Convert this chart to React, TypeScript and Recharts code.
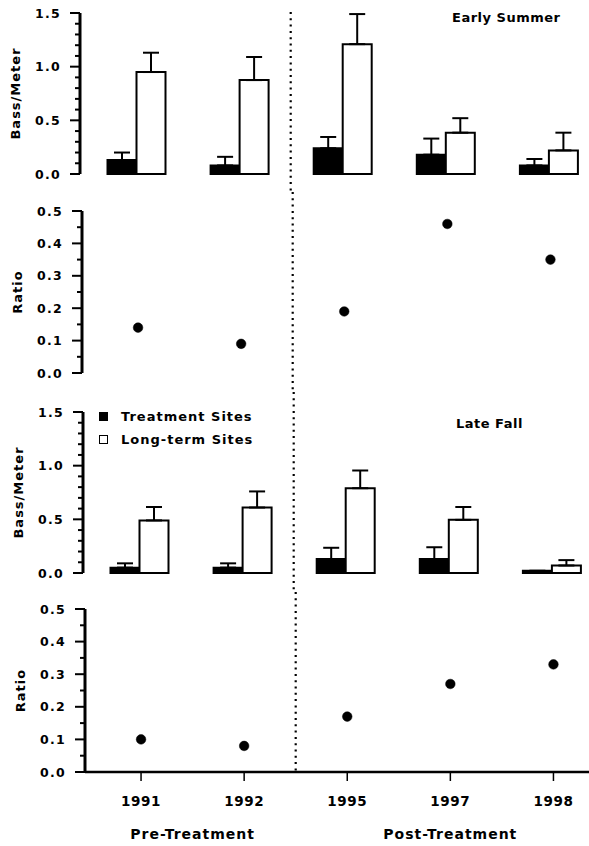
import React from 'react';
import { ComposedChart, Bar, ErrorBar, Line, XAxis, YAxis, ReferenceLine, Legend } from 'recharts';

// ---------- data ----------
const years = ['1991', '1992', '1995', '1997', '1998'];
const preYears = ['1991', '1992'];
const postYears = ['1995', '1997', '1998'];
const groupNames = ['Pre-Treatment', 'Post-Treatment'];

const summerTreatment = [0.13, 0.08, 0.24, 0.18, 0.08];
const summerTreatmentSE = [0.07, 0.08, 0.105, 0.15, 0.06];
const summerLongTerm = [0.95, 0.875, 1.21, 0.385, 0.22];
const summerLongTermSE = [0.18, 0.215, 0.28, 0.135, 0.165];
const summerRatio = [0.14, 0.09, 0.19, 0.46, 0.35];

const fallTreatment = [0.05, 0.05, 0.13, 0.13, 0.02];
const fallTreatmentSE = [0.04, 0.04, 0.105, 0.11, 0];
const fallLongTerm = [0.49, 0.61, 0.79, 0.495, 0.07];
const fallLongTermSE = [0.125, 0.15, 0.165, 0.12, 0.05];
const fallRatio = [0.1, 0.08, 0.17, 0.27, 0.33];

const barTicks = [0, 0.1, 0.2, 0.3, 0.4, 0.5, 0.6, 0.7, 0.8, 0.9, 1.0, 1.1, 1.2, 1.3, 1.4, 1.5];
const ratioTicks = [0, 0.05, 0.1, 0.15, 0.2, 0.25, 0.3, 0.35, 0.4, 0.45, 0.5];

const seriesNames = ['Treatment Sites', 'Long-term Sites'];
const panelTitles = ['Early Summer', 'Late Fall'];

// ---------- derived tables ----------
const makeRows = (t: number[], tSE: number[], l: number[], lSE: number[], r: number[]) =>
  years.map((year, i) => ({
    year,
    idx: i,
    treat: t[i],
    treatErr: [0, tSE[i]],
    long: l[i],
    longErr: [0, lSE[i]],
    ratio: r[i],
  }));

const summerRows = makeRows(summerTreatment, summerTreatmentSE, summerLongTerm, summerLongTermSE, summerRatio);
const fallRows = makeRows(fallTreatment, fallTreatmentSE, fallLongTerm, fallLongTermSE, fallRatio);

const centerOf = (ys: string[]) => ys.reduce((s, y) => s + years.indexOf(y), 0) / ys.length;
const groupCenters = [centerOf(preYears), centerOf(postYears)];
const lastPre = preYears[preYears.length - 1];

// ---------- styling ----------
const FONT = '"DejaVu Sans", Verdana, sans-serif';
const W = 600;
const AXIS_W = 80;
const PAD = { left: 4.5, right: 0 };
// band width of the category axis, used so the numeric group axis lines up with band centres
const BAND = (W - AXIS_W - PAD.left - PAD.right) / years.length;
const NUM_PAD = { left: PAD.left + BAND / 2, right: PAD.right + BAND / 2 };

const makeYTick = (majorStep: number) => (props: any) => {
  const { x, y, payload } = props;
  const v = payload.value as number;
  const major = Math.round(v * 100) % Math.round(majorStep * 100) === 0;
  return (
    <g>
      <line x1={x - (major ? 10 : 5)} x2={x} y1={y} y2={y} stroke="#000" strokeWidth={2} />
      {major && (
        <text
          x={x - 19}
          y={y}
          dy="0.36em"
          textAnchor="end"
          fill="#000"
          fontFamily={FONT}
          fontWeight="bold"
          fontSize={12.5}
          letterSpacing={1.3}
        >
          {v.toFixed(1)}
        </text>
      )}
    </g>
  );
};

const dottedShape = (extTop: number, extBottom: number) => (p: any) => {
  const yTop = Math.min(p.y1, p.y2) - extTop;
  const yBot = Math.max(p.y1, p.y2) + extBottom;
  return <line x1={p.x1} x2={p.x2} y1={yTop} y2={yBot} stroke="#000" strokeWidth={2.2} strokeDasharray="2 4.3" />;
};

const yLabel = (value: string) => ({
  value,
  angle: -90,
  position: 'insideLeft' as const,
  offset: 15,
  style: { textAnchor: 'middle', fontFamily: FONT, fontWeight: 'bold', fontSize: 13, letterSpacing: 1, fill: '#000' },
});

const legendContent = (props: any) => {
  const items = [...(props.payload || [])].sort(
    (a: any, b: any) => seriesNames.indexOf(a.value) - seriesNames.indexOf(b.value)
  );
  return (
    <div style={{ fontFamily: FONT, fontWeight: 'bold', fontSize: 13, letterSpacing: 1, color: '#000' }}>
      {items.map((e: any) => (
        <div key={e.value} style={{ display: 'flex', alignItems: 'center', height: 23 }}>
          <span
            style={{
              display: 'inline-block',
              width: 7,
              height: 7,
              background: e.color,
              border: '1.6px solid #000',
              marginRight: 13,
            }}
          />
          <span>{e.value}</span>
        </div>
      ))}
    </div>
  );
};

const titleStyle = (left: number, top: number): React.CSSProperties => ({
  position: 'absolute',
  left,
  top,
  fontFamily: FONT,
  fontWeight: 'bold',
  fontSize: 13,
  letterSpacing: 0.5,
  lineHeight: '14px',
  color: '#000',
  whiteSpace: 'nowrap',
});

function BarPanel(props: {
  rows: any[];
  top: number;
  shift: number;
  margin: { top: number; bottom: number };
  height: number;
  ext: [number, number];
  legend?: boolean;
}) {
  const { rows, top, shift, margin, height, ext, legend } = props;
  return (
    <div style={{ position: 'absolute', left: shift, top }}>
      <ComposedChart width={W} height={height} data={rows} margin={{ top: margin.top, bottom: margin.bottom, left: 0, right: 0 }} barGap={0} barSize={29}>
        <XAxis dataKey="year" hide padding={PAD} scale="band" />
        <YAxis
          type="number"
          domain={[0, 1.5]}
          ticks={barTicks}
          interval={0}
          width={AXIS_W}
          tickSize={0}
          tickMargin={0}
          tickLine={false}
          axisLine={{ stroke: '#000', strokeWidth: 3 }}
          tick={makeYTick(0.5)}
          label={yLabel('Bass/Meter')}
        />
        <ReferenceLine x={lastPre} position="end" ifOverflow="visible" shape={dottedShape(ext[0], ext[1])} />
        <Bar dataKey="treat" name={seriesNames[0]} fill="#000" stroke="#000" strokeWidth={2} isAnimationActive={false}>
          <ErrorBar dataKey="treatErr" width={8} stroke="#000" strokeWidth={2} direction="y" />
        </Bar>
        <Bar dataKey="long" name={seriesNames[1]} fill="#fff" stroke="#000" strokeWidth={2} isAnimationActive={false}>
          <ErrorBar dataKey="longErr" width={8} stroke="#000" strokeWidth={2} direction="y" />
        </Bar>
        {legend && (
          <Legend
            layout="vertical"
            align="center"
            verticalAlign="middle"
            content={legendContent}
            wrapperStyle={{ top: 13, left: 96, width: 220 }}
          />
        )}
      </ComposedChart>
    </div>
  );
}

function RatioPanel(props: {
  rows: any[];
  top: number;
  shift: number;
  margin: { top: number; bottom: number };
  height: number;
  ext: [number, number];
  bottomAxis?: boolean;
}) {
  const { rows, top, shift, margin, height, ext, bottomAxis } = props;
  const tickText = { fill: '#000', fontFamily: FONT, fontWeight: 'bold', fontSize: 13.5, letterSpacing: 0.6 } as any;
  return (
    <div style={{ position: 'absolute', left: shift, top }}>
      <ComposedChart width={W} height={height} data={rows} margin={{ top: margin.top, bottom: margin.bottom, left: 0, right: 0 }}>
        {bottomAxis ? (
          <XAxis
            dataKey="year"
            scale="band"
            padding={PAD}
            interval={0}
            height={31}
            tickSize={9}
            tickMargin={15}
            axisLine={{ stroke: '#000', strokeWidth: 2.5 }}
            tickLine={{ stroke: '#000', strokeWidth: 1.5 }}
            tick={tickText}
          />
        ) : (
          <XAxis dataKey="year" scale="band" padding={PAD} height={0} tick={false} tickLine={false} axisLine={{ stroke: '#000', strokeWidth: 2.5 }} />
        )}
        {bottomAxis && (
          <XAxis
            xAxisId="grp"
            dataKey="idx"
            type="number"
            scale="linear"
            domain={[0, years.length - 1]}
            allowDataOverflow
            padding={NUM_PAD}
            ticks={groupCenters}
            interval={0}
            tickFormatter={(v: number) => groupNames[groupCenters.indexOf(v)] ?? ''}
            height={40}
            tickSize={0}
            tickMargin={26}
            axisLine={false}
            tickLine={false}
            tick={{ ...tickText, fontSize: 14, letterSpacing: 1 }}
          />
        )}
        <YAxis
          type="number"
          domain={[0, 0.5]}
          ticks={ratioTicks}
          interval={0}
          width={AXIS_W}
          tickSize={0}
          tickMargin={0}
          tickLine={false}
          axisLine={{ stroke: '#000', strokeWidth: 3 }}
          tick={makeYTick(0.1)}
          label={yLabel('Ratio')}
        />
        <ReferenceLine x={lastPre} position="end" ifOverflow="visible" shape={dottedShape(ext[0], ext[1])} />
        <Line
          dataKey="ratio"
          stroke="none"
          isAnimationActive={false}
          dot={{ r: 4.8, fill: '#000', stroke: '#000', strokeWidth: 0.5 }}
          activeDot={false}
        />
      </ComposedChart>
    </div>
  );
}

export default function App() {
  return (
    <div
      style={{
        position: 'absolute',
        left: 0,
        top: 0,
        width: 589,
        height: 846,
        overflow: 'hidden',
        background: '#fff',
      }}
    >
      <BarPanel rows={summerRows} top={0} shift={0} height={192} margin={{ top: 13, bottom: 18 }} ext={[1, 18]} />
      <RatioPanel rows={summerRows} top={192} shift={1.5} height={200} margin={{ top: 19, bottom: 19 }} ext={[19, 19]} />
      <BarPanel rows={fallRows} top={392} shift={3} height={200} margin={{ top: 20, bottom: 19 }} ext={[20, 19]} legend />
      <RatioPanel rows={fallRows} top={592} shift={5} height={254} margin={{ top: 17, bottom: 3 }} ext={[17, 0]} bottomAxis />
      <div style={titleStyle(452, 11)}>{panelTitles[0]}</div>
      <div style={titleStyle(456, 417)}>{panelTitles[1]}</div>
    </div>
  );
}
